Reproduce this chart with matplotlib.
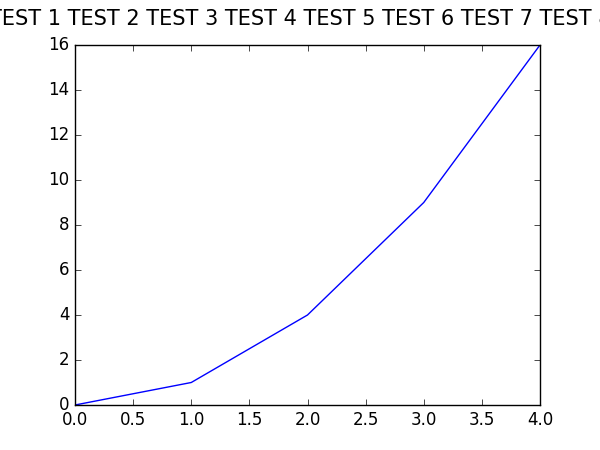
import matplotlib
matplotlib.use('Agg')
import matplotlib.pyplot as plt

plt.style.use('classic')

x = [0, 1, 2, 3, 4]
y = [0, 1, 4, 9, 16]
title = ' '.join(f'TEST {i}' for i in range(1, 9))

fig = plt.figure(figsize=(6, 4.5), dpi=100)
ax = fig.add_subplot(111)
ax.plot(x, y)
st = fig.suptitle(title, fontsize=15)
fig.savefig('out.png', dpi=100)

r = fig.canvas.get_renderer()
bb = st.get_window_extent(r)
print(bb.x0, bb.x1, 450 - bb.y1, 450 - bb.y0)
